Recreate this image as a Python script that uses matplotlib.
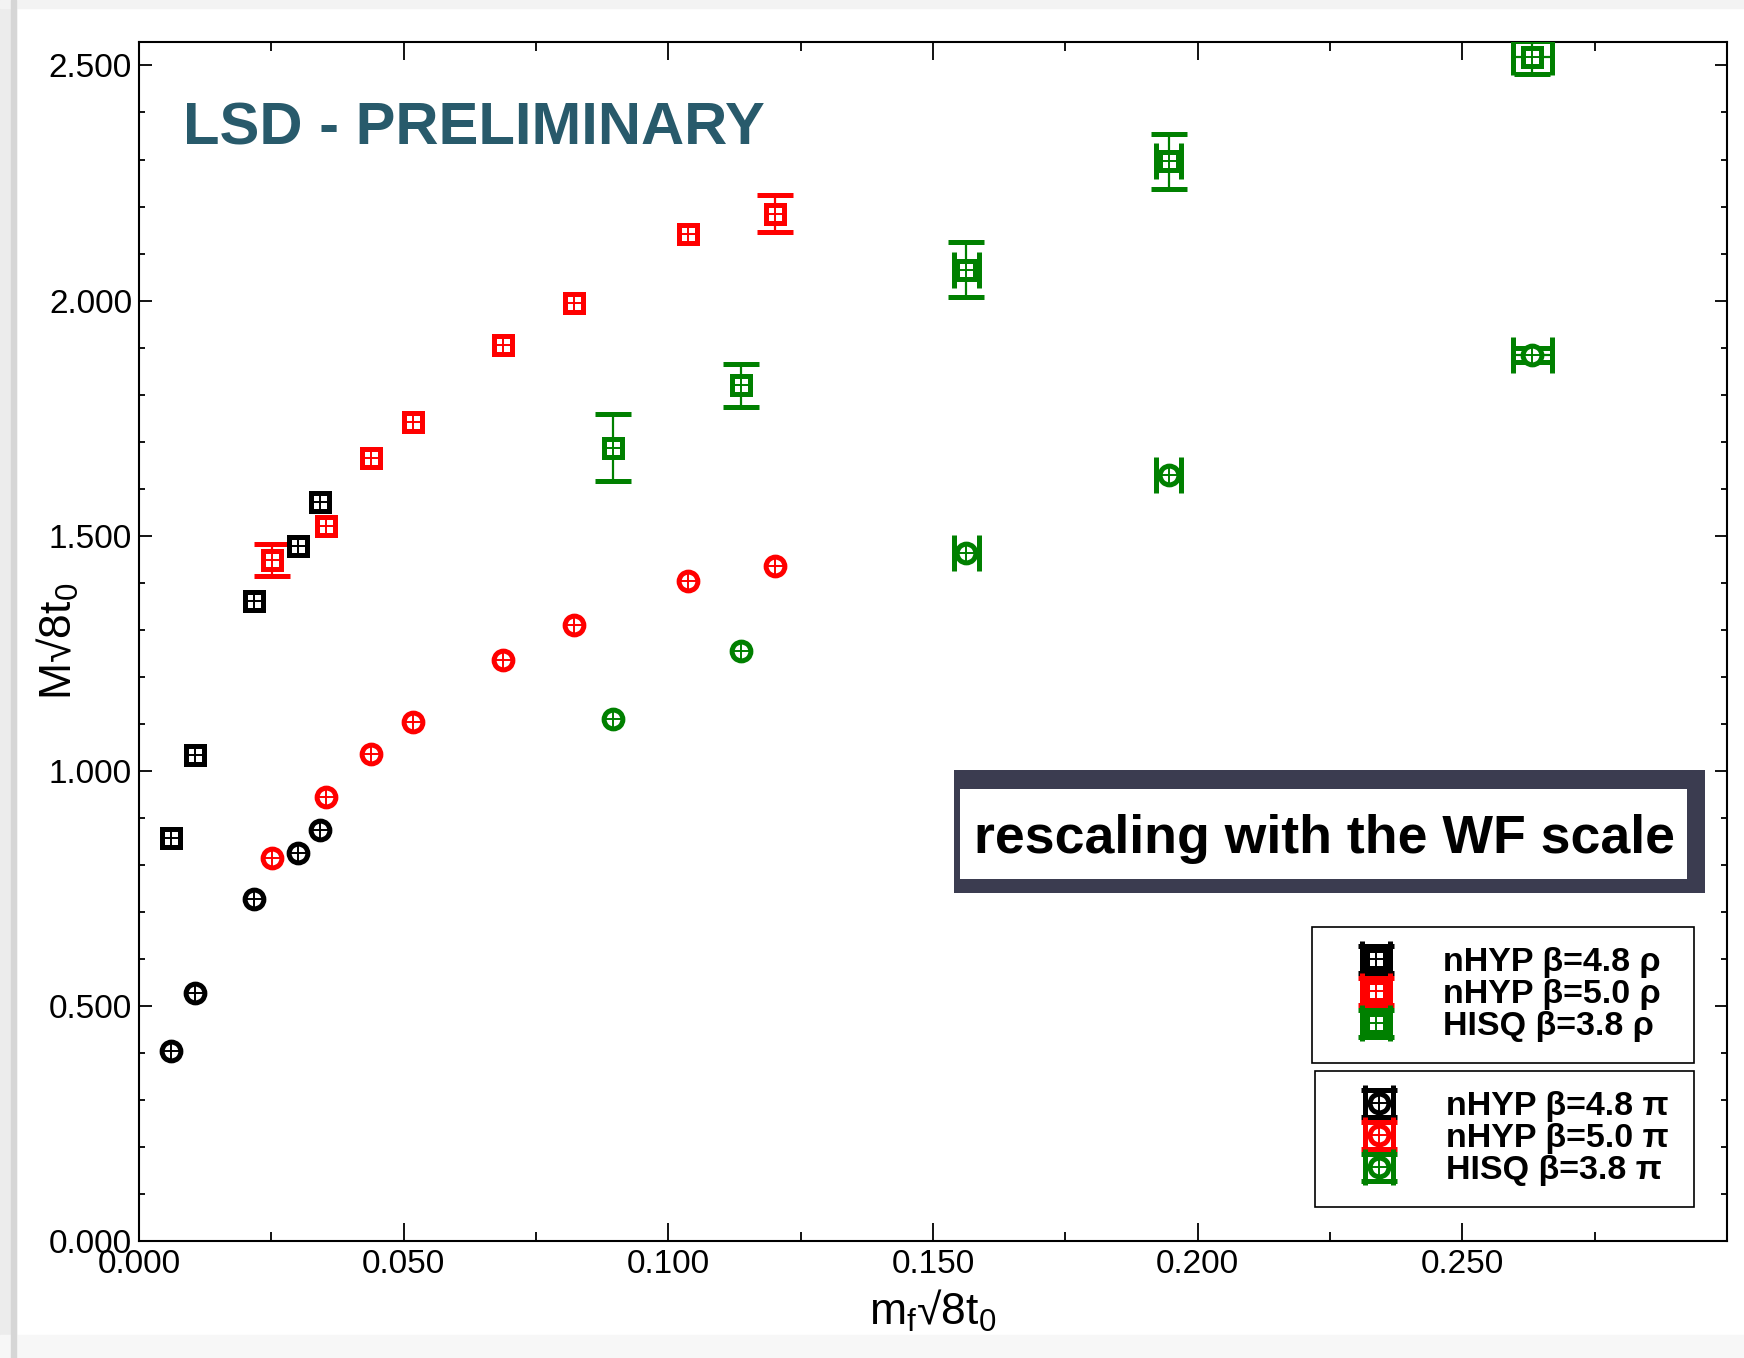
import matplotlib
matplotlib.use("Agg")
import numpy as np
import matplotlib.pyplot as plt
from matplotlib.patches import Rectangle
from matplotlib.container import ErrorbarContainer
from matplotlib.legend_handler import HandlerErrorbar
from matplotlib.ticker import MultipleLocator, FuncFormatter, FormatStrFormatter

plt.rcParams['font.family'] = ['Liberation Sans', 'DejaVu Sans']
plt.rcParams['mathtext.fontset'] = 'custom'
plt.rcParams['mathtext.rm'] = 'Liberation Sans'
plt.rcParams['mathtext.default'] = 'regular'

# nHYP beta=4.8
nhyp48_x = [0.0061, 0.0105, 0.0218, 0.0300, 0.0342]
nhyp48_rho = [0.858, 1.033, 1.360, 1.479, 1.571]
nhyp48_pi = [0.405, 0.528, 0.727, 0.825, 0.874]

# nHYP beta=5.0
nhyp50_x = [0.0252, 0.0353, 0.0439, 0.0517, 0.0687, 0.0821, 0.1038, 0.1202]
nhyp50_rho = [1.448, 1.521, 1.666, 1.742, 1.905, 1.995, 2.142, 2.185]
nhyp50_rho_err = [0.034, 0.0, 0.0, 0.0, 0.0, 0.0, 0.0, 0.039]
nhyp50_pi = [0.815, 0.945, 1.036, 1.104, 1.235, 1.310, 1.403, 1.436]

# HISQ beta=3.8
hisq_x = [0.0895, 0.1137, 0.1563, 0.1945, 0.2632]
hisq_x_err = [0.0, 0.0, 0.0024, 0.0024, 0.0037]
hisq_rho = [1.687, 1.820, 2.066, 2.296, 2.517]
hisq_rho_err = [0.071, 0.046, 0.058, 0.059, 0.036]
hisq_pi = [1.111, 1.254, 1.464, 1.630, 1.884]
hisq_pi_err = [0.0, 0.0, 0.0, 0.0, 0.015]

rho_labels = ['nHYP β=4.8 ρ', 'nHYP β=5.0 ρ', 'HISQ β=3.8 ρ']
pi_labels = ['nHYP β=4.8 π', 'nHYP β=5.0 π', 'HISQ β=3.8 π']
colors = ['black', '#ff0000', '#008000']

fig = plt.figure(figsize=(17.44, 13.58), dpi=100)

# page shadow on the left / top like the screenshot
fig.patches.append(Rectangle((0, 0), 0.009, 1, transform=fig.transFigure,
                             color='#ececec', zorder=-5))
fig.patches.append(Rectangle((0.0065, 0), 0.0025, 1, transform=fig.transFigure,
                             color='#d6d6d6', zorder=-4))
fig.patches.append(Rectangle((0, 0.994), 1, 0.006, transform=fig.transFigure,
                             color='#f3f3f3', zorder=-5))
fig.patches.append(Rectangle((0, 0), 1, 0.017, transform=fig.transFigure,
                             color='#f7f7f7', zorder=-5))

ax = fig.add_axes([0.0797, 0.0862, 0.9106, 0.8829])


def nz(err):
    # zero errors are not drawn (no collapsed caps)
    return [e if e > 0 else np.nan for e in err]


def draw(x, y, xerr, yerr, color, marker):
    eb = ax.errorbar(x, y, xerr=nz(xerr), yerr=nz(yerr), fmt=marker,
                     color=color, mfc='white', mec=color, ms=13.5, mew=3.6,
                     ecolor=color, elinewidth=1.6, capsize=13, capthick=2,
                     zorder=3)
    cross, = ax.plot(x, y, ls='none', marker='+', ms=13, mew=1.4,
                     color=color, zorder=4)
    return (eb, cross)


zeros48 = [0.0] * len(nhyp48_x)
zeros50 = [0.0] * len(nhyp50_x)

rho_handles = [
    draw(nhyp48_x, nhyp48_rho, zeros48, zeros48, colors[0], 's'),
    draw(nhyp50_x, nhyp50_rho, zeros50, nhyp50_rho_err, colors[1], 's'),
    draw(hisq_x, hisq_rho, hisq_x_err, hisq_rho_err, colors[2], 's'),
]
pi_handles = [
    draw(nhyp48_x, nhyp48_pi, zeros48, zeros48, colors[0], 'o'),
    draw(nhyp50_x, nhyp50_pi, zeros50, zeros50, colors[1], 'o'),
    draw(hisq_x, hisq_pi, hisq_x_err, hisq_pi_err, colors[2], 'o'),
]

ax.set_xlim(0, 0.3)
ax.set_ylim(0, 2.55)
ax.xaxis.set_major_locator(MultipleLocator(0.05))
ax.xaxis.set_minor_locator(MultipleLocator(0.025))
ax.yaxis.set_major_locator(MultipleLocator(0.5))
ax.yaxis.set_minor_locator(MultipleLocator(0.1))
ax.xaxis.set_major_formatter(FuncFormatter(lambda v, p: '' if v > 0.29 else '%.3f' % v))
ax.yaxis.set_major_formatter(FormatStrFormatter('%.3f'))
ax.tick_params(which='both', direction='in', top=True, right=True,
               labelsize=24, width=1.3)
ax.tick_params(axis='x', which='major', length=13, pad=6)
ax.tick_params(axis='x', which='minor', length=6.5)
ax.tick_params(axis='y', which='major', length=9, pad=5)
ax.tick_params(axis='y', which='minor', length=4.5)
for s in ax.spines.values():
    s.set_linewidth(1.5)

ax.set_xlabel('m$_{f}$√8t$_{0}$', fontsize=32)
ax.set_ylabel('M√8t$_{0}$', fontsize=32)
ax.xaxis.set_label_coords(0.5, -0.039)
ax.yaxis.set_label_coords(-0.0365, 0.5)

ax.text(0.028, 0.9144, 'LSD - PRELIMINARY', transform=ax.transAxes,
        fontsize=43, fontweight='bold', color='#285a6b', va='baseline')

# framed note
ax.add_patch(Rectangle((0.513, 0.290), 0.473, 0.103, transform=ax.transAxes,
                       facecolor='#3b3c50', edgecolor='none', zorder=5))
ax.add_patch(Rectangle((0.517, 0.302), 0.458, 0.075, transform=ax.transAxes,
                       facecolor='white', edgecolor='none', zorder=6))
ax.text(0.7465, 0.335, 'rescaling with the WF scale', transform=ax.transAxes,
        fontsize=38.6, fontweight='bold', ha='center', va='center', zorder=7)

hmap = {ErrorbarContainer: HandlerErrorbar(xerr_size=0.4)}
leg_kw = dict(loc='upper left', mode='expand', borderaxespad=0, numpoints=1,
              fancybox=False, framealpha=1, edgecolor='black',
              prop={'weight': 'bold', 'size': 24.5}, labelspacing=0.03,
              borderpad=0.6, handlelength=2.55, handletextpad=0.7,
              handler_map=hmap)
leg1 = ax.legend(rho_handles, rho_labels,
                 bbox_to_anchor=(0.7387, 0.1519, 0.2406, 0.11), **leg_kw)
leg1.get_frame().set_linewidth(1.2)
ax.add_artist(leg1)
leg2 = ax.legend(pi_handles, pi_labels,
                 bbox_to_anchor=(0.7406, 0.0318, 0.2387, 0.11), **leg_kw)
leg2.get_frame().set_linewidth(1.2)

fig.savefig('out.png', dpi=100)
